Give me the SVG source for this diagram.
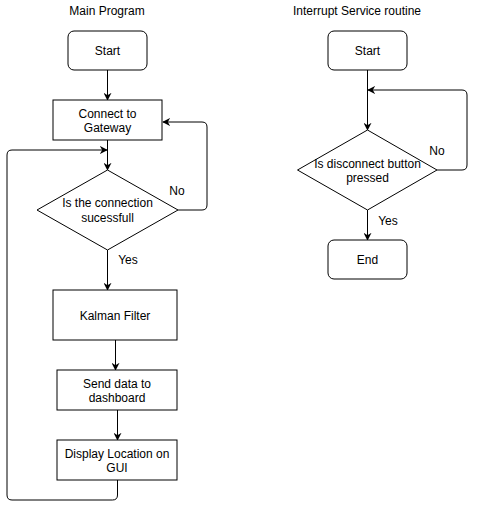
<svg xmlns="http://www.w3.org/2000/svg" width="477" height="510" viewBox="0 0 477 510">
<defs>
<marker id="arr" viewBox="0 0 10 10" refX="9" refY="5" markerWidth="8" markerHeight="8" markerUnits="userSpaceOnUse" orient="auto">
<path d="M0,0 L10,5 L0,10 L3,5 Z" fill="#000"/>
</marker>
<style>
text{font-family:"Liberation Sans",Arial,sans-serif;font-size:12px;fill:#000;text-anchor:middle;dominant-baseline:central}
.n{fill:#fff;stroke:#000;stroke-width:1}
.c{fill:none;stroke:#000;stroke-width:1;marker-end:url(#arr)}
</style>
</defs>
<rect width="477" height="510" fill="#fff"/>
<text x="107" y="11">Main Program</text>
<text x="357" y="11">Interrupt Service routine</text>
<g id="connectors">
<path class="c" d="M107.5,70 L107.5,100"/>
<path class="c" d="M107.5,140 L107.5,170"/>
<path class="c" d="M178,210 L202,210 Q207,210 207,205 L207,127 Q207,122 202,122 L163,122"/>
<path class="c" d="M107.5,250 L107.5,290"/>
<path class="c" d="M115.5,340 L115.5,370"/>
<path class="c" d="M117.5,410 L117.5,440"/>
<path class="c" d="M117.5,480 L117.5,495 Q117.5,500 112.5,500 L12,500 Q7,500 7,495 L7,155 Q7,150 12,150 L107,150"/>
<path class="c" d="M367.5,70 L367.5,130"/>
<path class="c" d="M437,170 L462,170 Q467,170 467,165 L467,95 Q467,90 462,90 L368,90"/>
<path class="c" d="M367.5,210 L367.5,240"/>
<text x="177" y="191">No</text>
<text x="128" y="260">Yes</text>
<text x="437" y="151">No</text>
<text x="388" y="221">Yes</text>
</g>
<g id="start1"><rect class="n" x="68" y="31" width="79" height="39" rx="6"/><text x="107.5" y="50.5">Start</text></g>
<g id="connect"><rect class="n" x="53" y="100" width="109" height="40"/><text x="107.5" y="114">Connect to</text><text x="107.5" y="128">Gateway</text></g>
<g id="decision1"><polygon class="n" points="107.5,170 178,210 107.5,250 37,210"/><text x="107.5" y="203">Is the connection</text><text x="107.5" y="218">sucessfull</text></g>
<g id="kalman"><rect class="n" x="53" y="290" width="124" height="50"/><text x="115" y="316">Kalman Filter</text></g>
<g id="send"><rect class="n" x="57" y="370" width="120" height="40"/><text x="117" y="383.5">Send data to</text><text x="117" y="397.5">dashboard</text></g>
<g id="display"><rect class="n" x="57" y="440" width="120" height="40"/><text x="117" y="453.5">Display Location on</text><text x="117" y="467.5">GUI</text></g>
<g id="start2"><rect class="n" x="328" y="31" width="79" height="39" rx="6"/><text x="367.5" y="50.5">Start</text></g>
<g id="decision2"><polygon class="n" points="367.5,130 437,170 367.5,210 297.5,170"/><text x="367.5" y="164">Is disconnect button</text><text x="367.5" y="178">pressed</text></g>
<g id="end"><rect class="n" x="328" y="240" width="79" height="39" rx="6"/><text x="367.5" y="260">End</text></g>
</svg>
